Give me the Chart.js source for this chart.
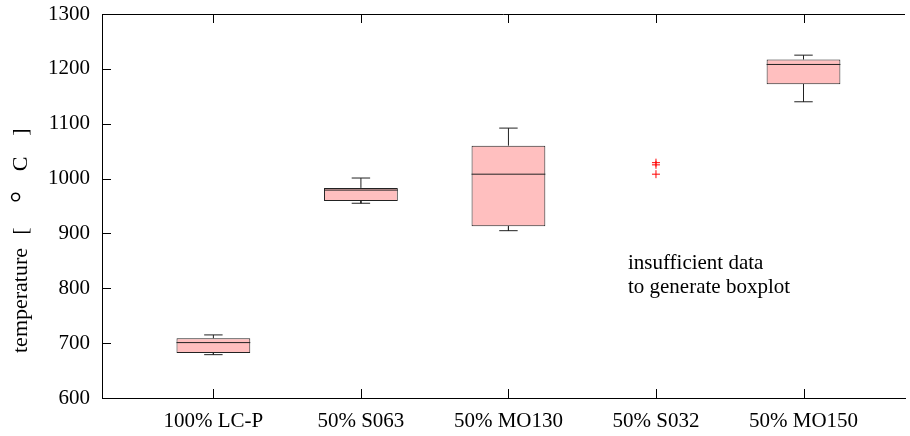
<!DOCTYPE html>
<html>
<head>
<meta charset="utf-8">
<script src="https://cdn.jsdelivr.net/npm/chart.js@4/dist/chart.umd.min.js"></script>
<style>
  html, body { margin: 0; padding: 0; background: #fff; }
  #wrap { width: 910px; height: 436px; position: relative; }
</style>
</head>
<body>
<div id="wrap"><canvas id="chart"></canvas></div>
<script>
const CATEGORIES = ['100% LC-P', '50% S063', '50% MO130', '50% S032', '50% MO150'];
// box stats per category (null = not enough data for a box)
const WHISKER_LOW = [679, 955, 905, null, 1140];
const Q1 = [682, 959, 913, null, 1172];
const MEDIAN = [701, 979, 1008, null, 1208];
const Q3 = [709, 983, 1060, null, 1217];
const WHISKER_HIGH = [715, 1001, 1092, null, 1225];
// raw points shown for the category without a box
const OUTLIER_CAT = [4, 4, 4];
const OUTLIER_VAL = [1029, 1025, 1008];
const Y_TICKS = [600, 700, 800, 900, 1000, 1100, 1200, 1300];
const NOTE = ['insufficient data', 'to generate boxplot'];
const Y_TITLE = ['temperature', '[', '\u00b0', 'C', ']'];

const BOX_HALF = 0.25;
const CAP_HALF = 0.0625;
const FONT = "'Liberation Serif', 'Times New Roman', serif";
const FONT_SIZE = 21;
const LINE = '#222';

Chart.defaults.font.family = FONT;
Chart.defaults.font.size = FONT_SIZE;
Chart.defaults.color = '#000';

const boxData = [], medData = [], whiskData = [], capData = [];
CATEGORIES.forEach((c, i) => {
  const x = i + 1;
  if (Q1[i] == null) return;
  boxData.push({ x, y: [Q1[i], Q3[i]] });
  medData.push({ x: x - BOX_HALF, y: MEDIAN[i] }, { x: x + BOX_HALF, y: MEDIAN[i] }, { x, y: null });
  whiskData.push({ x, y: Q3[i] }, { x, y: WHISKER_HIGH[i] }, { x, y: null });
  whiskData.push({ x, y: Q1[i] }, { x, y: WHISKER_LOW[i] }, { x, y: null });
  capData.push({ x: x - CAP_HALF, y: WHISKER_HIGH[i] }, { x: x + CAP_HALF, y: WHISKER_HIGH[i] }, { x, y: null });
  capData.push({ x: x - CAP_HALF, y: WHISKER_LOW[i] }, { x: x + CAP_HALF, y: WHISKER_LOW[i] }, { x, y: null });
});
const outData = OUTLIER_CAT.map((c, i) => ({ x: c, y: OUTLIER_VAL[i] }));

const segment = (data, order) => ({
  type: 'scatter', data, showLine: true, spanGaps: false, pointRadius: 0,
  borderColor: LINE, borderWidth: 1, order,
});

// frame, inward ticks, axis title and note
const extras = {
  id: 'extras',
  afterDatasetsDraw(chart) {
    const { ctx, chartArea: a, scales } = chart;
    const sx = scales.x, sy = scales.y;
    ctx.save();
    ctx.strokeStyle = '#000';
    ctx.lineWidth = 1;
    ctx.beginPath();
    ctx.moveTo(a.left, a.top + 0.5); ctx.lineTo(a.right, a.top + 0.5);
    for (let i = 0; i < CATEGORIES.length; i++) {
      const px = Math.round(sx.getPixelForValue(i + 1)) + 0.5;
      ctx.moveTo(px, a.bottom); ctx.lineTo(px, a.bottom - 9);
      ctx.moveTo(px, a.top); ctx.lineTo(px, a.top + 9);
    }
    Y_TICKS.forEach(v => {
      const py = Math.round(sy.getPixelForValue(v)) + 0.5;
      ctx.moveTo(a.left, py); ctx.lineTo(a.left + 9, py);
    });
    ctx.stroke();

    ctx.fillStyle = '#000';
    ctx.font = FONT_SIZE + 'px ' + FONT;
    ctx.textAlign = 'left';
    ctx.textBaseline = 'alphabetic';
    const nx = sx.getPixelForValue(3.81);
    const ny = sy.getPixelForValue(835);
    NOTE.forEach((t, i) => ctx.fillText(t, nx, ny + i * 24));

    // rotated y title, gnuplot-style wide spacing around the unit
    ctx.translate(21, 353);
    ctx.rotate(-Math.PI / 2);
    ctx.font = '22px ' + FONT;
    ctx.textBaseline = 'middle';
    ctx.textAlign = 'left';
    ctx.fillText(Y_TITLE[0], 0, 0);
    const gaps = [122, 156, 189, 221];
    ctx.textAlign = 'center';
    Y_TITLE.slice(1).forEach((t, i) => {
      ctx.font = (t === '\u00b0' ? '30px ' : '22px ') + FONT;
      ctx.fillText(t, gaps[i], t === '\u00b0' ? 2 : 0);
    });
    ctx.restore();
  }
};

new Chart(document.getElementById('chart'), {
  data: {
    datasets: [
      segment(medData, 0),
      segment(capData, 1),
      segment(whiskData, 1),
      {
        type: 'scatter', data: outData, pointStyle: 'cross', pointRadius: 4,
        borderColor: '#ff0000', backgroundColor: '#ff0000', borderWidth: 1, order: 1,
      },
      {
        type: 'bar', data: boxData, backgroundColor: '#ffbfbf', borderColor: LINE,
        borderWidth: 1, borderSkipped: false, barPercentage: 0.5, categoryPercentage: 1,
        grouped: false, order: 2,
      },
    ],
  },
  options: {
    responsive: true,
    maintainAspectRatio: false,
    animation: false,
    events: [],
    layout: { padding: { top: 14, right: -3, left: 0, bottom: 0 } },
    plugins: { legend: { display: false }, tooltip: { enabled: false } },
    scales: {
      x: {
        type: 'linear', min: 0.245, max: 5.688, offset: false,
        afterBuildTicks: s => { s.ticks = CATEGORIES.map((c, i) => ({ value: i + 1 })); },
        afterFit: s => { s.height = 38; s.paddingLeft = 0; s.paddingRight = 0; },
        ticks: { callback: v => CATEGORIES[v - 1], padding: 11, maxRotation: 0, autoSkip: false, color: '#000' },
        grid: { display: false, drawTicks: false },
        border: { display: true, color: '#000', width: 1 },
      },
      y: {
        type: 'linear', min: 600, max: 1300,
        afterBuildTicks: s => { s.ticks = Y_TICKS.map(v => ({ value: v })); },
        afterFit: s => { s.width = 102; s.paddingTop = 0; s.paddingBottom = 0; },
        ticks: { callback: v => String(v), padding: 12, color: '#000' },
        grid: { display: false, drawTicks: false },
        border: { display: true, color: '#000', width: 1 },
      },
    },
  },
  plugins: [extras],
});
</script>
</body>
</html>
